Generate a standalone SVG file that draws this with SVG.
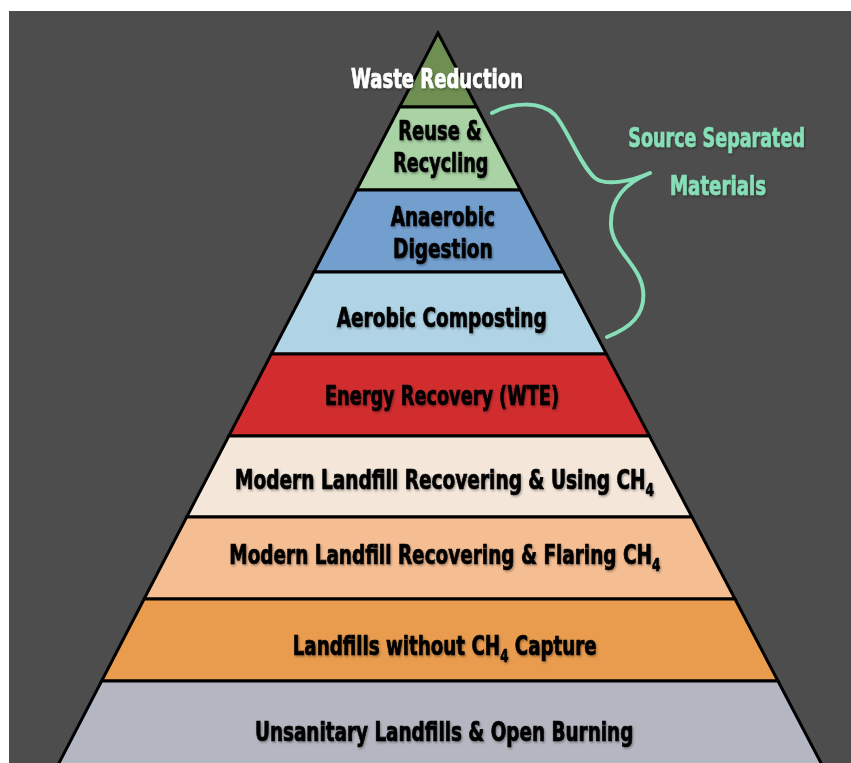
<svg xmlns="http://www.w3.org/2000/svg" width="851" height="763" viewBox="0 0 851 763">
  <defs>
    <filter id="shadow" x="-10%" y="-30%" width="120%" height="160%">
      <feDropShadow dx="1" dy="1.5" stdDeviation="1" flood-color="#000" flood-opacity="0.35"/>
    </filter>
  </defs>
  <style>
    .lbl { font-family: "Liberation Sans Narrow", "DejaVu Sans Condensed", "Liberation Sans", sans-serif; font-weight: bold; font-size: 26px; fill: #000; stroke: #000; stroke-width: 0.7; filter: url(#shadow); }
    .sub { font-size: 17px; }
    .white { fill: #ffffff; stroke: #ffffff; }
    .teal { fill: #86dfb7; stroke: #86dfb7; }
    .band { stroke: #000; stroke-width: 3; stroke-linejoin: miter; }
    .brace { fill: none; stroke: #86dfb7; stroke-width: 4; stroke-linecap: round; stroke-linejoin: round; }
  </style>

  <rect x="0" y="0" width="851" height="763" fill="#ffffff"/>
  <rect x="9" y="11" width="842" height="752" fill="#4d4d4d"/>

  <g id="waste-reduction">
    <polygon class="band" points="438,33 476.8,107 399.6,107" fill="#6e8f51"/>
    <text class="lbl white" x="351" y="88" textLength="172" lengthAdjust="spacingAndGlyphs">Waste Reduction</text>
  </g>
  <g id="reuse-recycling">
    <polygon class="band" points="399.6,107 476.8,107 520.4,190 356.5,190" fill="#a9d3a4"/>
    <text class="lbl" x="398.3" y="140" textLength="83.4" lengthAdjust="spacingAndGlyphs">Reuse &amp;</text>
    <text class="lbl" x="393.3" y="171.7" textLength="95" lengthAdjust="spacingAndGlyphs">Recycling</text>
  </g>
  <g id="anaerobic-digestion">
    <polygon class="band" points="356.5,190 520.4,190 563.4,272 313.9,272" fill="#739fcf"/>
    <text class="lbl" x="390.7" y="226" textLength="104.3" lengthAdjust="spacingAndGlyphs">Anaerobic</text>
    <text class="lbl" x="393" y="258.3" textLength="99.7" lengthAdjust="spacingAndGlyphs">Digestion</text>
  </g>
  <g id="aerobic-composting">
    <polygon class="band" points="313.9,272 563.4,272 606.4,354 271.3,354" fill="#b0d4e6"/>
    <text class="lbl" x="336.7" y="327.3" textLength="210" lengthAdjust="spacingAndGlyphs">Aerobic Composting</text>
  </g>
  <g id="energy-recovery">
    <polygon class="band" points="271.3,354 606.4,354 649.5,436 228.8,436" fill="#d12d2f"/>
    <text class="lbl" x="325" y="405" textLength="234" lengthAdjust="spacingAndGlyphs">Energy Recovery (WTE)</text>
  </g>
  <g id="landfill-using">
    <polygon class="band" points="228.8,436 649.5,436 692,517 186.7,517" fill="#f4e6d9"/>
    <text class="lbl" x="235" y="489.3" textLength="419" lengthAdjust="spacingAndGlyphs">Modern Landfill Recovering &amp; Using CH<tspan class="sub" dy="7">4</tspan></text>
  </g>
  <g id="landfill-flaring">
    <polygon class="band" points="186.7,517 692,517 735,599 144.1,599" fill="#f5bd92"/>
    <text class="lbl" x="229.3" y="564" textLength="431" lengthAdjust="spacingAndGlyphs">Modern Landfill Recovering &amp; Flaring CH<tspan class="sub" dy="7">4</tspan></text>
  </g>
  <g id="landfill-no-capture">
    <polygon class="band" points="144.1,599 735,599 778,681 101.6,681" fill="#e99c4e"/>
    <text class="lbl" x="292.7" y="655" textLength="304" lengthAdjust="spacingAndGlyphs">Landfills without CH<tspan class="sub" dy="7">4</tspan><tspan dy="-7"> Capture</tspan></text>
  </g>
  <g id="unsanitary">
    <polygon class="band" points="101.6,681 778,681 824.7,770 55.4,770" fill="#b4b7c1"/>
    <text class="lbl" x="255" y="740.7" textLength="378.3" lengthAdjust="spacingAndGlyphs">Unsanitary Landfills &amp; Open Burning</text>
  </g>

  <g id="connectors">
    <path class="brace" d="M492,113 C510,103 540,100 555,115 C568,130 580,165 595,178 C605,186 630,182 650,173 C625,183 610,200 611,225 C612,250 640,265 643,290 C646,315 630,328 607,337"/>
  </g>

  <g id="source-separated">
    <text class="lbl teal" x="628.3" y="146.7" textLength="176.7" lengthAdjust="spacingAndGlyphs">Source Separated</text>
    <text class="lbl teal" x="670" y="195" textLength="96" lengthAdjust="spacingAndGlyphs">Materials</text>
  </g>
</svg>
